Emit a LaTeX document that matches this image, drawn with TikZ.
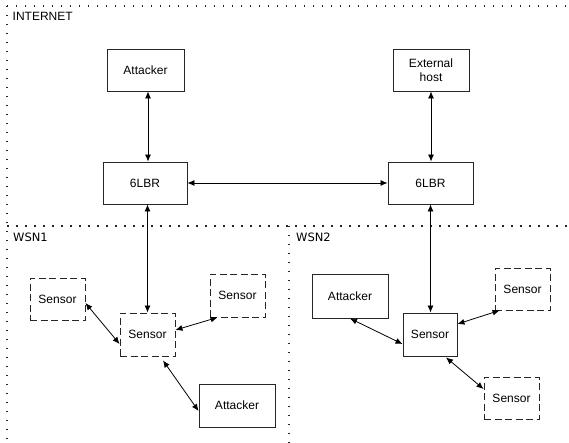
\documentclass[tikz,border=0pt]{standalone}
\usepackage{fontspec}
\setmainfont{Liberation Sans}
\newfontfamily\lblfont{DejaVu Sans}
\usetikzlibrary{arrows.meta}
\begin{document}
\begin{tikzpicture}[x=1pt,y=-1pt,
  box/.style={draw=black!85,line width=0.9pt,inner sep=0pt,align=center,font=\fontsize{12}{13.5}\selectfont},
  dbox/.style={box,dash pattern=on 7pt off 3.5pt},
  arr/.style={{Latex[length=7pt,width=6pt]}-{Latex[length=7pt,width=6pt]},line width=0.8pt},
  zone/.style={line width=1.2pt,dash pattern=on 1.2pt off 7.8pt,black!85},
  zlabel/.style={anchor=base west,inner sep=0pt,font=\lblfont\fontsize{11.5}{13}\selectfont}]
\useasboundingbox (0,0) rectangle (569,443);
% zones
\coordinate (tl) at (7,6);
\coordinate (tr) at (569,6);
\coordinate (bl) at (7,443);
\coordinate (ml) at (7,226);
\coordinate (mr) at (569,226);
\coordinate (mt) at (289,226);
\coordinate (mb) at (289,443);
\draw[zone] (tl) -- (tr);
\draw[zone] (tl) -- (bl);
\draw[zone,dash pattern=on 2pt off 7pt] (ml) -- (mr);
\draw[zone] (mt) -- (mb);
\node[zlabel,font=\fontsize{12}{13.5}\selectfont] (inet) at (12.5,21) {INTERNET};
\node[zlabel] (wsn1) at (13,241) {WSN1};
\node[zlabel] (wsn2) at (296,241) {WSN2};
% internet nodes
\node[box,minimum width=77pt,minimum height=42pt] (at1) at (145.5,70) {Attacker};
\node[box,minimum width=84pt,minimum height=42pt] (lbr1) at (145,183) {6LBR};
\node[box,minimum width=76pt,minimum height=42pt] (ext) at (431,70) {External\\host};
\node[box,minimum width=85pt,minimum height=42pt] (lbr2) at (430.5,183) {6LBR};
% WSN1
\node[dbox,minimum width=55pt,minimum height=42pt] (s1l) at (57.5,299) {Sensor};
\node[dbox,minimum width=55pt,minimum height=43pt] (s1c) at (147.5,334.5) {Sensor};
\node[dbox,minimum width=55pt,minimum height=43pt] (s1r) at (237.5,295.5) {Sensor};
\node[box,minimum width=76pt,minimum height=43pt] (a1) at (237,405.5) {Attacker};
% WSN2
\node[box,minimum width=76pt,minimum height=44pt] (a2) at (350,296) {Attacker};
\node[box,minimum width=54pt,minimum height=43pt] (s2c) at (430,334.5) {Sensor};
\node[dbox,minimum width=55pt,minimum height=42pt] (s2r) at (522.5,289) {Sensor};
\node[dbox,minimum width=55pt,minimum height=42pt] (s2b) at (511.5,398) {Sensor};
% connectors
\draw[arr] ([xshift=2.5pt]at1.south) -- ([xshift=3pt]lbr1.north);
\draw[arr] (ext.south) -- (ext.south |- lbr2.north);
\draw[arr] (lbr1.east) -- (lbr2.west);
\draw[arr] (lbr1.south -| s1c.north) -- (s1c.north);
\draw[arr] (lbr2.south) -- (lbr2.south |- s2c.north);
\draw[arr] ([yshift=-4pt]s1l.east) -- ([yshift=-9.5pt]s1c.west);
\draw[arr] ([yshift=4.5pt]s1c.east) -- ([xshift=8pt]s1r.south west);
\draw[arr] ([xshift=15.5pt,yshift=-4pt]s1c.south) -- ([yshift=-5.5pt]a1.west);
\draw[arr] (a2.south) -- ([yshift=-9.5pt]s2c.west);
\draw[arr] ([yshift=10.5pt]s2c.east) -- ([xshift=5pt]s2r.south west);
\draw[arr] ([xshift=16pt,yshift=-1pt]s2c.south) -- ([yshift=9pt]s2b.west);
\end{tikzpicture}
\end{document}
